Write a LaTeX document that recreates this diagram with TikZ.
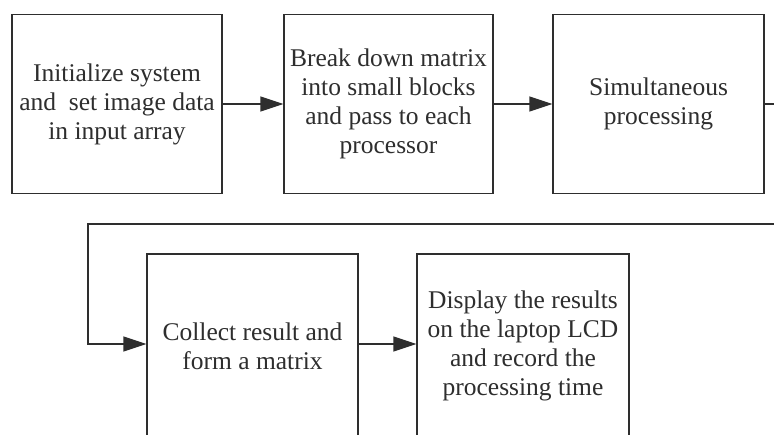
\documentclass[tikz,border=0pt]{standalone}
\usepackage{fontspec}
\setmainfont{Liberation Serif}
\usetikzlibrary{arrows.meta}
\definecolor{ink}{HTML}{2E2E2E}
\tikzset{
  stage/.style={draw=ink, line width=1.3pt, text=ink, align=center,
    inner sep=0pt, font=\fontsize{25.5}{29}\selectfont},
  flow/.style={draw=ink, line width=1.3pt,
    -{Triangle[length=23pt,width=15pt]}},
}
\begin{document}
\begin{tikzpicture}[x=1pt,y=-1pt]
\useasboundingbox (0,0) rectangle (774,434);
\clip (0,0) rectangle (774,434);
\fill[white] (0,0) rectangle (774,434);

% first row
\node[stage, minimum width=210pt, minimum height=179pt] (init) at (117,104)
  {Initialize system\\and\ \ set image data\\in input array};
\node[stage, minimum width=209pt, minimum height=179pt] (split) at (388.5,104)
  {Break down matrix\\into small blocks\\and pass to each\\processor};
\node[stage, minimum width=211pt, minimum height=179pt] (par) at (658.5,104)
  {Simultaneous\\processing};

% second row (boxes run past the lower edge)
\node[stage, minimum width=211pt, minimum height=184pt] (collect) at (252.5,346)
  {Collect result and\\form a matrix};
\node[stage, minimum width=212pt, minimum height=184pt] (show) at (523,346)
  {Display the results\\on the laptop LCD\\and record the\\processing time};

% connectors
\coordinate (out) at (780,104);
\coordinate (back) at (780,224);
\coordinate (turn) at (88,224);
\coordinate (drop) at (88,344);
\draw[flow] (init.east) -- (split.west);
\draw[flow] (split.east) -- (par.west);
\draw[draw=ink, line width=1.3pt] (par.east) -- (out);
\draw[flow] (back) -- (turn) -- (drop) -- (drop -| collect.west);
\draw[flow] (drop -| collect.east) -- (drop -| show.west);
\end{tikzpicture}
\end{document}
